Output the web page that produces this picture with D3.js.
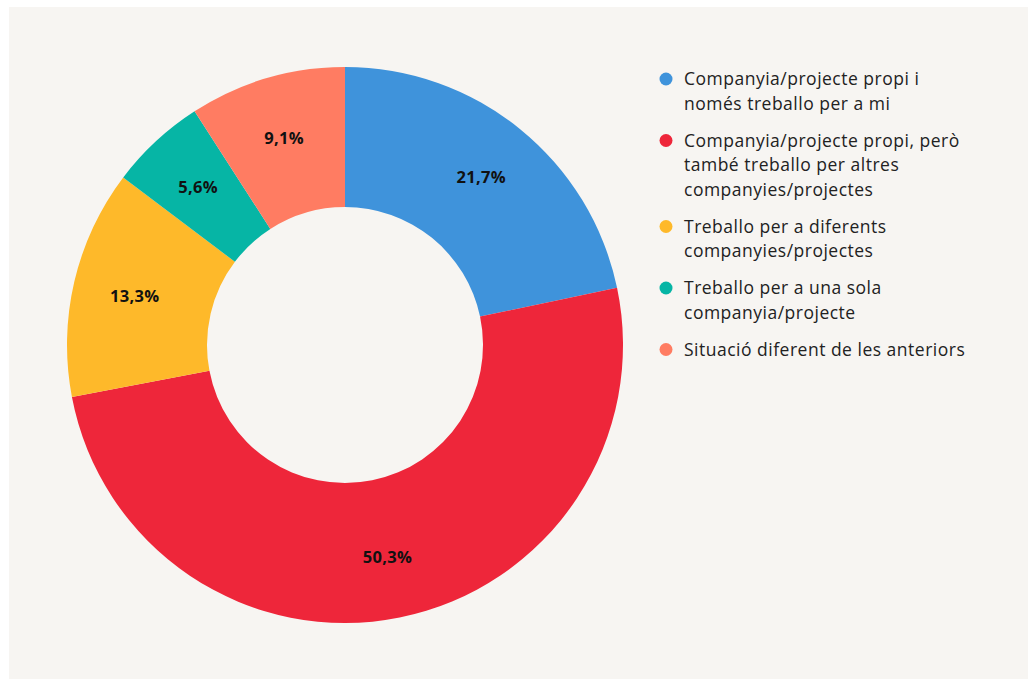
<!DOCTYPE html>
<html>
<head>
<meta charset="utf-8">
<script src="https://cdn.jsdelivr.net/npm/d3@7"></script>
<style>
  html, body { margin: 0; padding: 0; background: #ffffff; }
  svg { display: block; }
  text { font-family: "Open Sans", "Noto Sans", sans-serif; }
</style>
</head>
<body>
<svg id="chart" width="1028" height="679"></svg>
<script>
const categories = [
  "Companyia/projecte propi i\nnomés treballo per a mi",
  "Companyia/projecte propi, però\ntambé treballo per altres\ncompanyies/projectes",
  "Treballo per a diferents\ncompanyies/projectes",
  "Treballo per a una sola\ncompanyia/projecte",
  "Situació diferent de les anteriors"
];
const values = [21.7, 50.3, 13.3, 5.6, 9.1];
const colors = ["#3f93db", "#ee263a", "#feb92a", "#06b5a5", "#ff7c62"];

const svg = d3.select("#chart");
svg.append("rect").attr("x", 9).attr("y", 7).attr("width", 1019).attr("height", 672).attr("fill", "#f7f5f2");

const cx = 345, cy = 345, outerR = 278, innerR = 138;
const g = svg.append("g").attr("transform", `translate(${cx},${cy})`);

const pie = d3.pie().sort(null).value(d => d.v);
const data = values.map((v, i) => ({ v, i }));
const arcs = pie(data);
const arc = d3.arc().innerRadius(innerR).outerRadius(outerR);
const labelArc = d3.arc().innerRadius(216).outerRadius(216);
const color = d3.scaleOrdinal().domain(d3.range(values.length)).range(colors);

g.selectAll("path").data(arcs).join("path")
  .attr("d", arc)
  .attr("fill", d => color(d.data.i));

const fmt = v => d3.format(".1f")(v).replace(".", ",") + "%";
g.selectAll("text.lbl").data(arcs).join("text")
  .attr("class", "lbl")
  .attr("transform", d => `translate(${labelArc.centroid(d)})`)
  .attr("text-anchor", "middle")
  .attr("dy", "0.36em")
  .attr("font-size", 16.5)
  .attr("font-weight", 700)
  .attr("letter-spacing", 0.3)
  .attr("fill", "#111")
  .text(d => fmt(d.data.v));

// Legend
const lineH = 24.5, itemGap = 12.5;
let y = 79;
const leg = svg.append("g");
categories.forEach((c, i) => {
  const lines = c.split("\n");
  leg.append("circle").attr("cx", 666).attr("cy", y).attr("r", 6.5).attr("fill", colors[i]);
  const t = leg.append("text").attr("x", 684).attr("y", y)
    .attr("font-size", 17.5).attr("letter-spacing", 0.5).attr("fill", "#222");
  lines.forEach((l, j) => {
    t.append("tspan").attr("x", 684).attr("dy", j === 0 ? "0.36em" : lineH).text(l);
  });
  y += lines.length * lineH + itemGap;
});
</script>
</body>
</html>
